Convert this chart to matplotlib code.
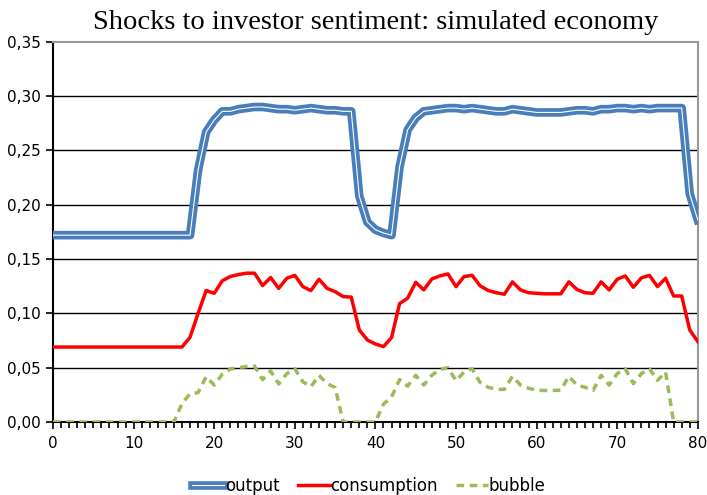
import matplotlib
matplotlib.use("Agg")
import matplotlib.pyplot as plt
import matplotlib.patheffects as pe
from matplotlib.ticker import MultipleLocator, FuncFormatter
import numpy as np

periods = np.arange(0, 81)

output = [0.172] * 18 + [
    0.232, 0.267, 0.278, 0.286, 0.286, 0.288, 0.289, 0.290, 0.290, 0.289,  # 18-27
    0.288, 0.288, 0.287, 0.288, 0.289, 0.288, 0.287, 0.287, 0.286, 0.286,  # 28-37
    0.208, 0.184, 0.177, 0.174, 0.172,                                      # 38-42
    0.235, 0.269, 0.280, 0.286, 0.287, 0.288, 0.289, 0.289, 0.288, 0.289,  # 43-52
    0.288, 0.287, 0.286, 0.286, 0.288, 0.287, 0.286, 0.285, 0.285, 0.285,  # 53-62
    0.285, 0.286, 0.287, 0.287, 0.286, 0.288, 0.288, 0.289, 0.289, 0.288,  # 63-72
    0.289, 0.288, 0.289, 0.289, 0.289, 0.289,                              # 73-78
    0.210, 0.186,                                                          # 79-80
]

consumption = [0.069] * 17 + [
    0.078, 0.100, 0.121, 0.1185, 0.130, 0.134, 0.1357, 0.137, 0.137,       # 17-25
    0.1256, 0.133, 0.123, 0.1323, 0.135, 0.1246, 0.121, 0.1314, 0.123,     # 26-34
    0.120, 0.1154, 0.115,                                                  # 35-37
    0.0847, 0.0755, 0.0718, 0.0694, 0.0777,                                # 38-42
    0.109, 0.114, 0.1286, 0.1216, 0.1317, 0.1345, 0.1363, 0.1246, 0.1339,  # 43-51
    0.135, 0.1253, 0.121, 0.119, 0.1176, 0.129, 0.1216, 0.119, 0.1185,     # 52-60
    0.118, 0.118, 0.118, 0.129, 0.122, 0.119, 0.1185, 0.129, 0.1216,       # 61-69
    0.1314, 0.1345, 0.124, 0.1327, 0.135, 0.1246, 0.1323, 0.116, 0.116,    # 70-78
    0.0847, 0.074,                                                         # 79-80
]

bubble = [0.0] * 16 + [
    0.017, 0.026, 0.027, 0.0417, 0.034, 0.044, 0.0488, 0.050, 0.051,       # 16-24
    0.0515, 0.039, 0.047, 0.035, 0.0445, 0.049, 0.037, 0.0325, 0.043,      # 25-33
    0.0353, 0.0317,                                                        # 34-35
    0.0, 0.0, 0.0, 0.0, 0.0,                                               # 36-40
    0.0165, 0.023, 0.039, 0.033, 0.043, 0.034, 0.043, 0.0485, 0.050,       # 41-49
    0.038, 0.046, 0.049, 0.0362, 0.032, 0.030, 0.030, 0.042, 0.034,        # 50-58
    0.031, 0.0293, 0.029, 0.029, 0.0293, 0.042, 0.034, 0.032, 0.029,       # 59-67
    0.043, 0.034, 0.0445, 0.049, 0.0353, 0.0445, 0.049, 0.0383, 0.046,     # 68-76
    0.0, 0.0, 0.0, 0.0,                                                    # 77-80
]

blue = "#4A7EBB"
red = "#FF0000"
green = "#9BBB59"

fig = plt.figure(figsize=(7.07, 4.95), dpi=100)
ax = fig.add_axes([0.075, 0.1475, 0.912, 0.768])

# grid lines
for yv in np.arange(0.05, 0.31, 0.05):
    ax.axhline(yv, color="black", lw=1.0, zorder=1)

ax.plot(periods, output, color="white", lw=0.8, zorder=4, label="output",
        solid_joinstyle="round",
        path_effects=[pe.Stroke(linewidth=6.2, foreground=blue), pe.Normal()])
ax.plot(periods, consumption, color=red, lw=2.5, zorder=3, label="consumption")
ax.plot(periods, bubble, color=green, lw=2.5, ls=(0, (2.2, 1.6)), zorder=3,
        label="bubble")

ax.set_xlim(0, 80)
ax.set_ylim(0, 0.35)
ax.xaxis.set_major_locator(MultipleLocator(10))
ax.xaxis.set_minor_locator(MultipleLocator(1))
ax.yaxis.set_major_locator(MultipleLocator(0.05))
ax.yaxis.set_major_formatter(FuncFormatter(lambda v, p: f"{v:.2f}".replace(".", ",")))

ax.spines["left"].set_color("black")
ax.spines["left"].set_linewidth(1.5)
ax.spines["bottom"].set_color("black")
ax.spines["bottom"].set_linewidth(1.5)
ax.spines["top"].set_color("#999999")
ax.spines["right"].set_color("#999999")
ax.spines["top"].set_linewidth(1.5)
ax.spines["right"].set_linewidth(1.5)

ax.tick_params(axis="both", which="both", direction="out", color="black",
               labelsize=11, width=1.2)
ax.tick_params(axis="x", which="major", length=5, pad=5)
ax.tick_params(axis="x", which="minor", length=4)
ax.tick_params(axis="y", which="major", length=5, pad=4)
for lbl in ax.get_xticklabels() + ax.get_yticklabels():
    lbl.set_fontfamily("DejaVu Sans")

ax.set_title("Shocks to investor sentiment: simulated economy",
             fontfamily="Liberation Serif", fontsize=20.5, pad=9)

fig.legend(loc="lower center", bbox_to_anchor=(0.522, -0.03), ncol=3, frameon=False,
           prop={"family": "DejaVu Sans", "size": 12}, handlelength=1.9,
           handletextpad=0.05, columnspacing=1.1)

fig.savefig("out.png", dpi=100)
